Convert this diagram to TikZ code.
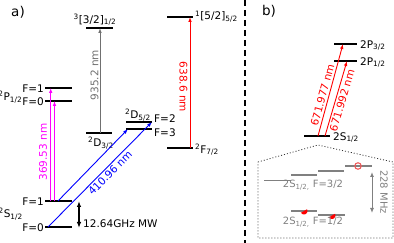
\documentclass[tikz,border=0pt]{standalone}
\usepackage{fontspec}
\setmainfont{DejaVu Sans}
\usetikzlibrary{arrows.meta}
\definecolor{lgray}{RGB}{112,112,112}
\definecolor{igray}{RGB}{128,128,128}
\definecolor{mag}{RGB}{255,0,255}
\definecolor{blu}{RGB}{0,0,255}
\definecolor{rd}{RGB}{255,0,0}
\definecolor{pinkred}{RGB}{240,90,90}
\begin{document}
\begin{tikzpicture}[x=1pt,y=-1pt,
  font=\fontsize{10.5}{12}\selectfont,
  level/.style={line width=1.6pt},
  ilevel/.style={line width=1.6pt, igray},
  arr/.style={-{Latex[length=5pt,width=3.6pt]}, line width=0.9pt},
  dbl/.style={{Latex[length=6pt,width=4.5pt]}-{Latex[length=6pt,width=4.5pt]}, line width=1.2pt},
  lbl/.style={inner sep=0pt},
  big/.style={font=\fontsize{13.5}{15}\selectfont},
  ilbl/.style={inner sep=0pt, text=igray, font=\fontsize{10}{12}\selectfont},
]
\useasboundingbox (0,0) rectangle (394,243);

% panel labels
\node[lbl,big] (pa) at (18,12) {a)};
\node[lbl,big] (pb) at (269,11) {b)};

% ---------- panel a levels ----------
\coordinate (P1a) at (45,88);  \coordinate (P1b) at (72,88);
\coordinate (P0a) at (45,101); \coordinate (P0b) at (72,101);
\coordinate (S1a) at (45,201); \coordinate (S1b) at (72,201);
\coordinate (S0a) at (45,227); \coordinate (S0b) at (72,227);
\coordinate (T3a) at (86,28);  \coordinate (T3b) at (113,28);
\coordinate (D3a) at (86,133); \coordinate (D3b) at (112,133);
\coordinate (D52a) at (126,122); \coordinate (D52b) at (152,122);
\coordinate (D53a) at (126,129); \coordinate (D53b) at (152,129);
\coordinate (U5a) at (167,17);  \coordinate (U5b) at (193,17);
\coordinate (F7a) at (167,148); \coordinate (F7b) at (193,148);

\foreach \a/\b in {P1a/P1b,P0a/P0b,S1a/S1b,S0a/S0b,T3a/T3b,D3a/D3b,D52a/D52b,D53a/D53b,U5a/U5b,F7a/F7b}
  \draw[level] (\a) -- (\b);

% level labels
\node[lbl,anchor=east] (lP1) at (44,88.5) {F=1};
\node[lbl,anchor=east] (lP0) at (44,101.5) {F=0};
\node[lbl,anchor=east] (lP) at (22.5,97) {\textsuperscript{2}P\textsubscript{1/2}};
\node[lbl,anchor=east] (lS1) at (44,201.5) {F=1};
\node[lbl,anchor=east] (lS0) at (44,227.5) {F=0};
\node[lbl,anchor=east] (lS) at (23,214) {\textsuperscript{2}S\textsubscript{1/2}};
\node[lbl] (lT3) at (95,19.5) {\textsuperscript{3}[3/2]\textsubscript{1/2}};
\node[lbl] (lD3) at (101,143) {\textsuperscript{2}D\textsubscript{3/2}};
\node[lbl] (lD5) at (138,115) {\textsuperscript{2}D\textsubscript{5/2}};
\node[lbl,anchor=west] (lD52) at (154,118.5) {F=2};
\node[lbl,anchor=west] (lD53) at (154,133) {F=3};
\node[lbl,anchor=west] (lU5) at (195,16.5) {\textsuperscript{1}[5/2]\textsubscript{5/2}};
\node[lbl,anchor=west] (lF7) at (195,149.5) {\textsuperscript{2}F\textsubscript{7/2}};

% transitions
\coordinate (m1s) at (50.7,201); \coordinate (m1e) at (50.7,88);
\coordinate (m2s) at (54.5,201); \coordinate (m2e) at (54.5,101);
\draw[arr,mag] (m1s) -- (m1e);
\draw[arr,mag] (m2s) -- (m2e);
\node[lbl,rotate=90,text=mag] (t369) at (43,152) {369.53 nm};

\coordinate (b1s) at (58,201); \coordinate (b1e) at (128,129);
\coordinate (b2s) at (48,227); \coordinate (b2e) at (152,122);
\draw[arr,blu] (b1s) -- (b1e);
\draw[arr,blu] (b2s) -- (b2e);
\node[lbl,rotate=45,text=blu] (t410) at (110,173) {410.96 nm};

\coordinate (g1s) at (100,133); \coordinate (g1e) at (100,28);
\draw[arr,lgray] (g1s) -- (g1e);
\node[lbl,rotate=90,text=lgray] (t935) at (94.5,75) {935.2 nm};

\coordinate (r1s) at (190,148); \coordinate (r1e) at (190,17);
\draw[arr,rd] (r1s) -- (r1e);
\node[lbl,rotate=-90,text=rd] (t638) at (183.5,87) {638.6 nm};

\coordinate (mw1) at (79,201); \coordinate (mw2) at (79,228);
\draw[dbl] (mw1) -- (mw2);
\node[lbl,anchor=west] (tmw) at (83,224) {12.64GHz MW};

% separator
\coordinate (sep1) at (245,0); \coordinate (sep2) at (245,243);
\draw[line width=1.1pt, dash pattern=on 6pt off 4pt] (sep1) -- (sep2);

% ---------- panel b ----------
\coordinate (Q3a) at (334,44);  \coordinate (Q3b) at (357,44);
\coordinate (Q1a) at (334,61);  \coordinate (Q1b) at (357,61);
\coordinate (Ra) at (304,136);  \coordinate (Rb) at (330,136);
\draw[level] (Q3a) -- (Q3b);
\draw[level] (Q1a) -- (Q1b);
\draw[level] (Ra) -- (Rb);
\node[lbl,anchor=west] (lQ3) at (360,45.5) {2P\textsubscript{3/2}};
\node[lbl,anchor=west] (lQ1) at (360,62.5) {2P\textsubscript{1/2}};
\node[lbl,anchor=west] (lR) at (333,137.5) {2S\textsubscript{1/2}};

\coordinate (x1s) at (318,136); \coordinate (x1e) at (343,44);
\coordinate (x2s) at (325,136); \coordinate (x2e) at (347,61);
\draw[arr,rd] (x1s) -- (x1e);
\draw[arr,rd] (x2s) -- (x2e);
\node[lbl,rotate=74.6,text=rd] (t977) at (322.5,95) {671.977 nm};
\node[lbl,rotate=73.4,text=rd] (t992) at (342,100.5) {671.992 nm};

% inset
\coordinate (ia) at (258,162); \coordinate (ib) at (318,145);
\coordinate (ic) at (393,162); \coordinate (id) at (393,238);
\coordinate (ie) at (258,238);
\draw[line width=0.8pt, black!80, dash pattern=on 1pt off 2pt] (ia) -- (ib) -- (ic) -- (id) -- (ie) -- cycle;

\coordinate (L1a) at (264,180.5); \coordinate (L1b) at (291,180.5);
\coordinate (L2a) at (291,175);   \coordinate (L2b) at (317,175);
\coordinate (L3a) at (318,171);   \coordinate (L3b) at (344,171);
\coordinate (L4a) at (345,166);   \coordinate (L4b) at (372,166);
\coordinate (Ma) at (291,211);    \coordinate (Mb) at (317,211);
\coordinate (Na) at (318,215);    \coordinate (Nb) at (345,215);
\foreach \a/\b in {L1a/L1b,L2a/L2b,L3a/L3b,L4a/L4b,Ma/Mb,Na/Nb}
  \draw[ilevel] (\a) -- (\b);

\node[draw=pinkred, line width=1.1pt, circle, minimum size=6.5pt, inner sep=0pt] (oc) at (358,166) {};
\coordinate (fb1) at (304,211); \coordinate (fb2) at (332,215.5);
\fill[rd] (fb1) ++(150:3.6) arc (150:-30:3.6) -- cycle;
\fill[rd] (fb2) ++(150:3.6) arc (150:-30:3.6) -- cycle;

\node[ilbl] (iF3) at (313,185) {2S\textsubscript{1/2,} F=3/2};
\node[ilbl] (iF1) at (313,222.5) {2S\textsubscript{1/2,} F=1/2};

\coordinate (h1) at (372,172); \coordinate (h2) at (372,213);
\draw[igray, {Latex[length=5pt,width=4pt]}-{Latex[length=5pt,width=4pt]}, line width=1pt] (h1) -- (h2);
\node[ilbl,rotate=-90] (t228) at (384,192) {228 MHz};
\end{tikzpicture}
\end{document}
